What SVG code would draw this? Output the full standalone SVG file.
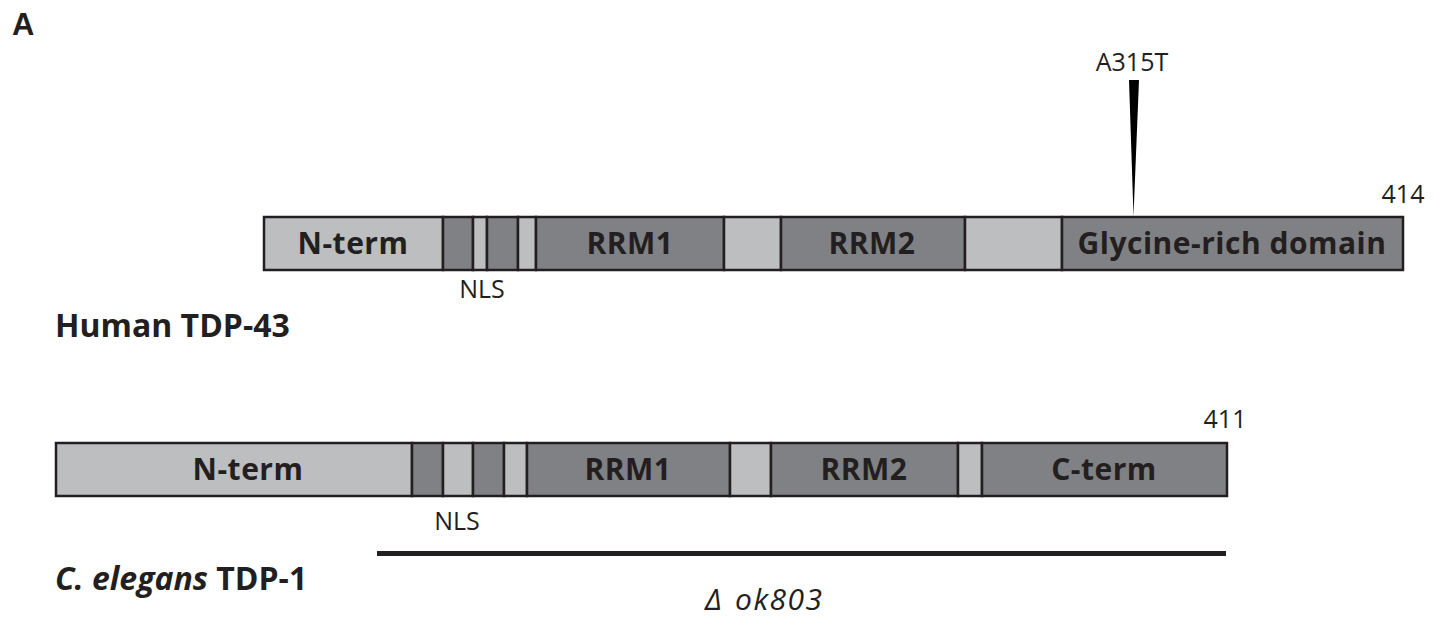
<svg xmlns="http://www.w3.org/2000/svg" width="1434" height="617" viewBox="0 0 1434 617">
<style>
  .lt { fill: #bcbec0; stroke: #231f20; stroke-width: 2.5; }
  .dk { fill: #808184; stroke: #231f20; stroke-width: 2.5; }
  .lbl { font-family: "Open Sans", "Liberation Sans", sans-serif; font-weight: bold; font-size: 30px; fill: #231f20; text-anchor: middle; letter-spacing: 0.5px; }
  .reg { font-family: "Open Sans", "Liberation Sans", sans-serif; font-size: 25px; fill: #231f20; text-anchor: middle; }
  .title { font-family: "Open Sans", "Liberation Sans", sans-serif; font-weight: bold; font-size: 32px; fill: #231f20; }
</style>
<rect width="1434" height="617" fill="#ffffff"/>
<text x="12" y="35" font-family="Liberation Sans, Arial, sans-serif" font-weight="bold" font-size="31" fill="#231f20">A</text>

<g id="human-tdp43">
  <g id="h-nterm"><rect class="lt" x="264" y="217" width="179" height="53"/><text class="lbl" x="353" y="254">N-term</text></g>
  <g id="h-nls1"><rect class="dk" x="443" y="217" width="30" height="53"/></g>
  <g id="h-nls2"><rect class="lt" x="473" y="217" width="14" height="53"/></g>
  <g id="h-nls3"><rect class="dk" x="487" y="217" width="31" height="53"/></g>
  <g id="h-link1"><rect class="lt" x="518" y="217" width="18" height="53"/></g>
  <g id="h-rrm1"><rect class="dk" x="536" y="217" width="188" height="53"/><text class="lbl" x="630" y="254">RRM1</text></g>
  <g id="h-link2"><rect class="lt" x="724" y="217" width="57" height="53"/></g>
  <g id="h-rrm2"><rect class="dk" x="781" y="217" width="184" height="53"/><text class="lbl" x="872" y="254">RRM2</text></g>
  <g id="h-link3"><rect class="lt" x="965" y="217" width="97" height="53"/></g>
  <g id="h-gly"><rect class="dk" x="1062" y="217" width="341" height="53"/><text class="lbl" x="1232" y="254">Glycine-rich domain</text></g>
  <text class="reg" x="1403" y="203">414</text>
  <text class="reg" x="482" y="298">NLS</text>
  <text class="reg" x="1132" y="71" font-size="27">A315T</text>
  <text class="title" x="55" y="337">Human TDP-43</text>
</g>

<g id="celegans-tdp1">
  <g id="c-nterm"><rect class="lt" x="56" y="443" width="356" height="53"/><text class="lbl" x="248" y="480">N-term</text></g>
  <g id="c-nls1"><rect class="dk" x="412" y="443" width="31" height="53"/></g>
  <g id="c-nls2"><rect class="lt" x="443" y="443" width="30" height="53"/></g>
  <g id="c-nls3"><rect class="dk" x="473" y="443" width="31" height="53"/></g>
  <g id="c-link1"><rect class="lt" x="504" y="443" width="23" height="53"/></g>
  <g id="c-rrm1"><rect class="dk" x="527" y="443" width="203" height="53"/><text class="lbl" x="628" y="480">RRM1</text></g>
  <g id="c-link2"><rect class="lt" x="730" y="443" width="41" height="53"/></g>
  <g id="c-rrm2"><rect class="dk" x="771" y="443" width="187" height="53"/><text class="lbl" x="864" y="480">RRM2</text></g>
  <g id="c-link3"><rect class="lt" x="958" y="443" width="24" height="53"/></g>
  <g id="c-cterm"><rect class="dk" x="982" y="443" width="245" height="53"/><text class="lbl" x="1104" y="480">C-term</text></g>
  <text class="reg" x="1225" y="428">411</text>
  <text class="reg" x="457" y="530">NLS</text>
  <text class="title" x="55" y="590"><tspan font-style="italic">C. elegans</tspan> TDP-1</text>
</g>

<g id="connectors">
  <polygon points="1129,80 1139,80 1133.5,216" fill="#000000"/>
  <rect x="377" y="551" width="849" height="5" fill="#231f20"/>
  <text x="705" y="610" font-family="Open Sans, Liberation Sans, sans-serif" font-style="italic" font-size="30" fill="#231f20">Δ<tspan x="735" letter-spacing="1.5">ok803</tspan></text>
</g>
</svg>
